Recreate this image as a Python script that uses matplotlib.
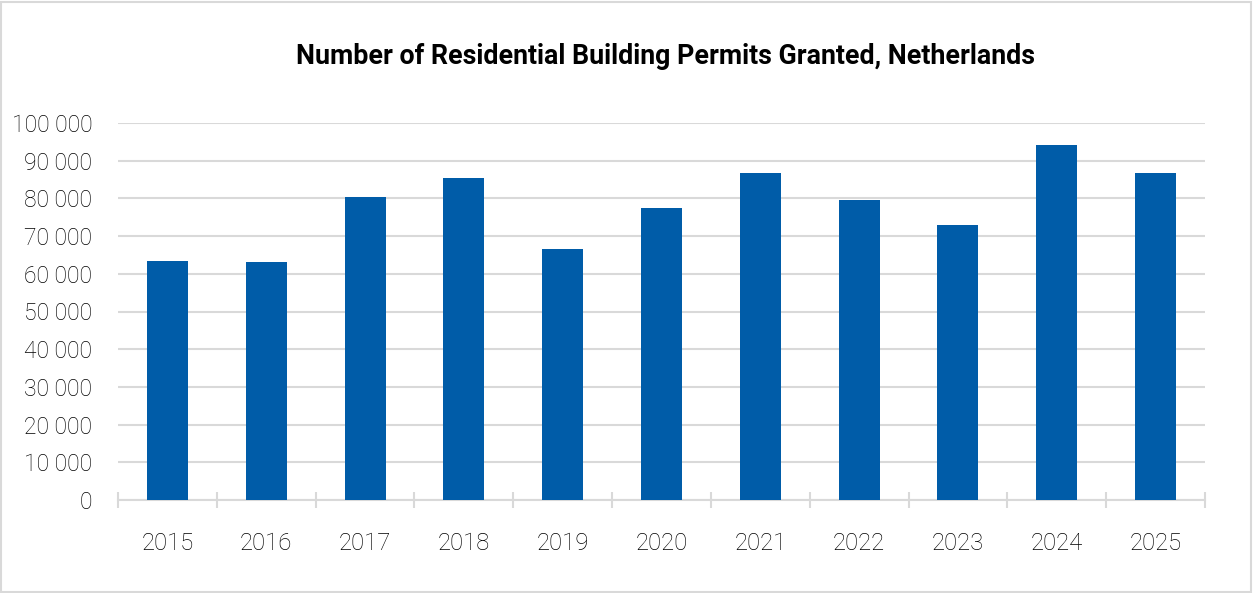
import matplotlib
matplotlib.use("Agg")
import matplotlib.pyplot as plt
from matplotlib.ticker import FuncFormatter, FixedLocator
from matplotlib.patches import Rectangle

years = ["2015", "2016", "2017", "2018", "2019", "2020", "2021", "2022", "2023", "2024", "2025"]
permits = [63300, 63000, 80300, 85300, 66500, 77400, 86700, 79500, 72900, 94100, 86700]
title = "Number of Residential Building Permits Granted, Netherlands"

W, H = 1253, 593
fig = plt.figure(figsize=(W / 100, H / 100), dpi=100)
ax = fig.add_axes([118 / W, (H - 500) / H, (1205 - 118) / W, (500 - 123) / H])

x = list(range(len(years)))
ax.bar(x, permits, width=0.415, color="#005ca8", zorder=3)

ax.set_xlim(-0.5, len(years) - 0.5)
ax.set_ylim(0, 100000)
ax.set_yticks(range(0, 100001, 10000))
ax.yaxis.set_major_formatter(FuncFormatter(lambda v, p: f"{int(v):,}".replace(",", " ")))
ax.grid(axis="y", color="#d9d9d9", linewidth=1.5, zorder=0)
ax.set_axisbelow(True)

ax.set_xticks(x)
ax.set_xticklabels(years)
ax.xaxis.set_minor_locator(FixedLocator([i - 0.5 for i in range(len(years) + 1)]))
ax.tick_params(axis="x", which="major", length=0, pad=23)
ax.tick_params(axis="x", which="minor", length=12, direction="inout", color="#d9d9d9", width=1.5)
ax.tick_params(axis="y", length=0, pad=18.5)

for lab in ax.get_xticklabels():
    lab.set_fontfamily("Roboto")
    lab.set_fontweight("light")
    lab.set_fontsize(17.2)
    lab.set_color("black")
for lab in ax.get_yticklabels():
    lab.set_fontfamily("Roboto")
    lab.set_fontweight("light")
    lab.set_fontsize(16.5)
    lab.set_color("black")

for s in ["top", "right", "left"]:
    ax.spines[s].set_visible(False)
ax.spines["bottom"].set_color("#d9d9d9")
ax.spines["bottom"].set_linewidth(1.5)

fig.text(666 / W, 1 - 56 / H, title, ha="center", va="center",
         fontfamily="Roboto", fontweight="bold", fontsize=19.3, color="black")

fig.patches.append(Rectangle((1 / W, 1 / H), (W - 3) / W, (H - 3) / H, transform=fig.transFigure,
                             fill=False, edgecolor="#d9d9d9", linewidth=1.5))

fig.savefig("out.png", dpi=100)
